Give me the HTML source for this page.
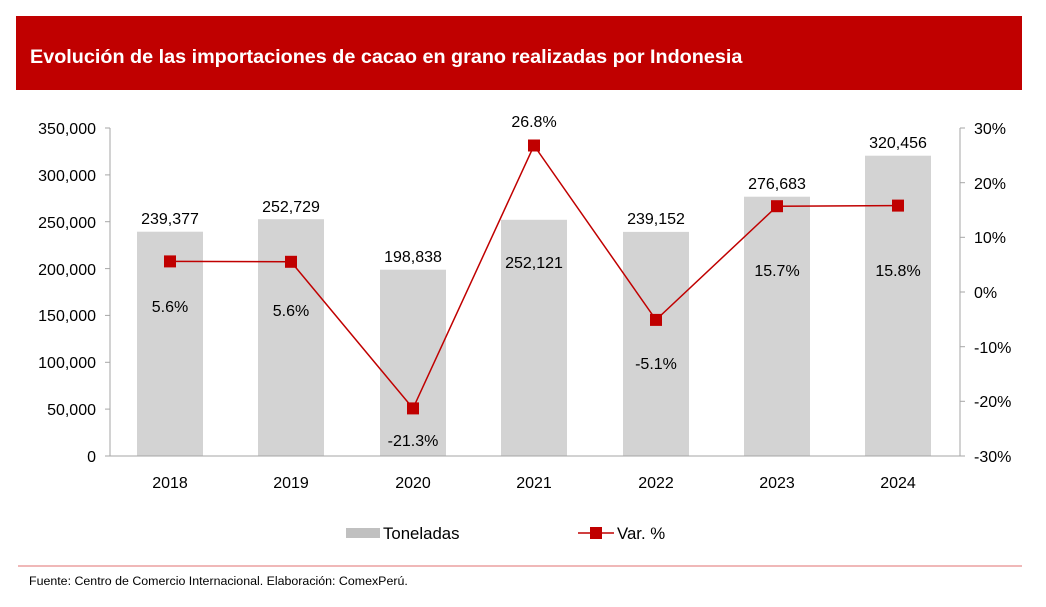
<!DOCTYPE html>
<html><head><meta charset="utf-8"><style>
body{margin:0;background:#fff;}
svg text{font-family:"Liberation Sans",Arial,sans-serif;}
</style></head><body>
<svg width="1046" height="602" xmlns="http://www.w3.org/2000/svg">
<rect width="1046" height="602" fill="#fff"/>
<rect x="16" y="16" width="1006" height="74" fill="#c00000"/>
<text x="30" y="63" fill="#fff" font-size="19.8" font-weight="bold">Evolución de las importaciones de cacao en grano realizadas por Indonesia</text>
<g fill="#d3d3d3">
<rect x="137" y="231.7" width="66" height="224.3"/>
<rect x="258" y="219.2" width="66" height="236.8"/>
<rect x="380" y="269.7" width="66" height="186.3"/>
<rect x="501" y="219.8" width="66" height="236.2"/>
<rect x="623" y="231.9" width="66" height="224.1"/>
<rect x="744" y="196.7" width="66" height="259.3"/>
<rect x="865" y="155.7" width="66" height="300.3"/>
</g>
<g stroke="#a6a6a6" stroke-width="1">
<line x1="110" y1="128" x2="110" y2="456"/>
<line x1="110" y1="456" x2="960" y2="456"/>
<line x1="960" y1="128" x2="960" y2="456"/>
<line x1="105" y1="128" x2="110" y2="128"/><line x1="105" y1="174.9" x2="110" y2="174.9"/><line x1="105" y1="221.7" x2="110" y2="221.7"/><line x1="105" y1="268.6" x2="110" y2="268.6"/><line x1="105" y1="315.4" x2="110" y2="315.4"/><line x1="105" y1="362.3" x2="110" y2="362.3"/><line x1="105" y1="409.1" x2="110" y2="409.1"/><line x1="105" y1="456" x2="110" y2="456"/>
<line x1="960" y1="128" x2="965" y2="128"/><line x1="960" y1="182.7" x2="965" y2="182.7"/><line x1="960" y1="237.3" x2="965" y2="237.3"/><line x1="960" y1="292" x2="965" y2="292"/><line x1="960" y1="346.7" x2="965" y2="346.7"/><line x1="960" y1="401.3" x2="965" y2="401.3"/><line x1="960" y1="456" x2="965" y2="456"/>
</g>
<g font-size="16" fill="#000" text-anchor="end">
<text x="96" y="134">350,000</text><text x="96" y="181">300,000</text><text x="96" y="228">250,000</text><text x="96" y="275">200,000</text><text x="96" y="321">150,000</text><text x="96" y="368">100,000</text><text x="96" y="415">50,000</text><text x="96" y="462">0</text>
</g>
<g font-size="16" fill="#000" text-anchor="start">
<text x="974" y="134">30%</text><text x="974" y="189">20%</text><text x="974" y="243">10%</text><text x="974" y="298">0%</text><text x="974" y="353">-10%</text><text x="974" y="407">-20%</text><text x="974" y="462">-30%</text>
</g>
<g font-size="16" fill="#000" text-anchor="middle">
<text x="170" y="488">2018</text><text x="291" y="488">2019</text><text x="413" y="488">2020</text><text x="534" y="488">2021</text><text x="656" y="488">2022</text><text x="777" y="488">2023</text><text x="898" y="488">2024</text>
<text x="170" y="224">239,377</text><text x="291" y="212">252,729</text><text x="413" y="262">198,838</text><text x="534" y="268">252,121</text><text x="656" y="224">239,152</text><text x="777" y="189">276,683</text><text x="898" y="148">320,456</text>
<text x="170" y="312">5.6%</text><text x="291" y="316">5.6%</text><text x="413" y="446">-21.3%</text><text x="534" y="127">26.8%</text><text x="656" y="369">-5.1%</text><text x="777" y="276">15.7%</text><text x="898" y="276">15.8%</text>
</g>
<polyline points="170,261.4 291,261.8 413,408.4 534,145.5 656,319.9 777,206.2 898,205.6" fill="none" stroke="#c00000" stroke-width="1.5"/>
<g fill="#c00000">
<rect x="164" y="255.4" width="12" height="12"/><rect x="285" y="255.8" width="12" height="12"/><rect x="407" y="402.4" width="12" height="12"/><rect x="528" y="139.5" width="12" height="12"/><rect x="650" y="313.9" width="12" height="12"/><rect x="771" y="200.2" width="12" height="12"/><rect x="892" y="199.6" width="12" height="12"/>
</g>
<rect x="346" y="528" width="34" height="10" fill="#c0c0c0"/>
<text x="383" y="539" font-size="16.8">Toneladas</text>
<line x1="578" y1="533" x2="614" y2="533" stroke="#c00000" stroke-width="1.5"/>
<rect x="590" y="527" width="12" height="12" fill="#c00000"/>
<text x="617" y="539" font-size="16.8">Var. %</text>
<line x1="18" y1="566" x2="1022" y2="566" stroke="#e07070" stroke-width="1"/>
<text x="29" y="585" font-size="12.4">Fuente: Centro de Comercio Internacional. Elaboración: ComexPerú.</text>
</svg>
</body></html>
